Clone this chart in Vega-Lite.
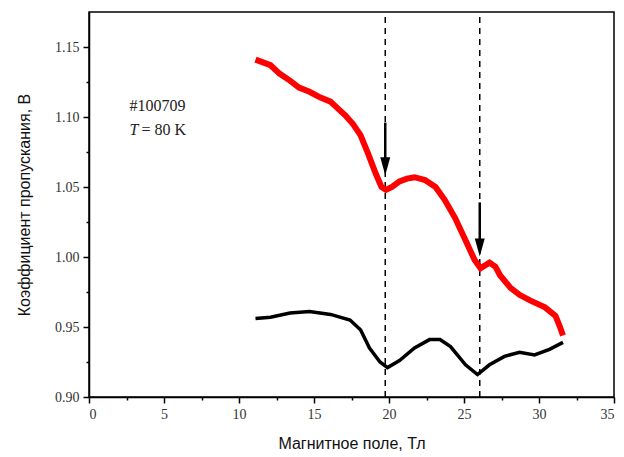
{
  "$schema": "https://vega.github.io/schema/vega-lite/v6.json",
  "width": 525,
  "height": 385,
  "autosize": "none",
  "padding": {"left": 89, "top": 12, "right": 10, "bottom": 60},
  "background": "white",
  "config": {"view": {"stroke": "black", "strokeWidth": 1.5}},
  "datasets": {
    "red": [
      {"x": 11.1, "y": 1.141}, {"x": 11.6, "y": 1.139}, {"x": 12.1, "y": 1.137}, {"x": 12.7, "y": 1.131},
      {"x": 13.4, "y": 1.126}, {"x": 14.0, "y": 1.121}, {"x": 14.7, "y": 1.118}, {"x": 15.4, "y": 1.114},
      {"x": 16.1, "y": 1.111}, {"x": 16.6, "y": 1.106}, {"x": 17.1, "y": 1.101}, {"x": 17.6, "y": 1.095},
      {"x": 18.1, "y": 1.087}, {"x": 18.6, "y": 1.074}, {"x": 19.1, "y": 1.060}, {"x": 19.5, "y": 1.050},
      {"x": 19.8, "y": 1.048}, {"x": 20.2, "y": 1.050}, {"x": 20.7, "y": 1.054}, {"x": 21.2, "y": 1.056},
      {"x": 21.7, "y": 1.057}, {"x": 22.4, "y": 1.055}, {"x": 23.1, "y": 1.050}, {"x": 23.7, "y": 1.041},
      {"x": 24.4, "y": 1.028}, {"x": 25.1, "y": 1.012}, {"x": 25.7, "y": 0.998}, {"x": 26.1, "y": 0.992},
      {"x": 26.7, "y": 0.996}, {"x": 27.1, "y": 0.993}, {"x": 27.4, "y": 0.987}, {"x": 28.1, "y": 0.978},
      {"x": 28.7, "y": 0.973}, {"x": 29.4, "y": 0.969}, {"x": 30.4, "y": 0.964}, {"x": 31.1, "y": 0.958},
      {"x": 31.4, "y": 0.950}, {"x": 31.6, "y": 0.944}
    ],
    "black": [
      {"x": 11.1, "y": 0.956}, {"x": 12.1, "y": 0.957}, {"x": 13.4, "y": 0.960}, {"x": 14.7, "y": 0.961},
      {"x": 16.1, "y": 0.959}, {"x": 17.4, "y": 0.955}, {"x": 18.1, "y": 0.948}, {"x": 18.7, "y": 0.935},
      {"x": 19.4, "y": 0.925}, {"x": 19.9, "y": 0.921}, {"x": 20.7, "y": 0.926}, {"x": 21.7, "y": 0.935},
      {"x": 22.7, "y": 0.941}, {"x": 23.4, "y": 0.941}, {"x": 24.1, "y": 0.936}, {"x": 25.1, "y": 0.923},
      {"x": 25.9, "y": 0.916}, {"x": 26.7, "y": 0.923}, {"x": 27.7, "y": 0.929}, {"x": 28.7, "y": 0.932},
      {"x": 29.7, "y": 0.930}, {"x": 30.7, "y": 0.934}, {"x": 31.6, "y": 0.939}
    ],
    "vlines": [{"x": 19.75}, {"x": 26.05}],
    "arrows": [
      {"x": 19.75, "y1": 1.096, "y2": 1.068, "tip": 1.062},
      {"x": 26.05, "y1": 1.039, "y2": 1.010, "tip": 1.004}
    ],
    "labels": [{"x": 2.7, "y": 1.108, "t": "#100709"}]
  },
  "layer": [
    {
      "data": {"name": "vlines"},
      "mark": {"type": "rule", "color": "black", "strokeWidth": 1.5, "strokeDash": [6, 5]},
      "encoding": {
        "x": {"field": "x", "type": "quantitative", "scale": {"domain": [0, 35], "nice": false},
          "axis": {"orient": "bottom", "values": [0, 5, 10, 15, 20, 25, 30, 35], "tickSize": 6, "tickWidth": 1.5, "tickColor": "black",
            "domainColor": "black", "domainWidth": 1.5, "labelFont": "Liberation Serif", "labelFontSize": 14, "labelColor": "#333", "labelPadding": 4,
            "grid": false, "title": "Магнитное поле, Тл", "titleFont": "Liberation Sans", "titleFontSize": 16, "titleFontWeight": "normal", "titleColor": "#111", "titlePadding": 14}},
        "y": {"datum": 0.9, "type": "quantitative", "scale": {"domain": [0.9, 1.175], "nice": false, "zero": false},
          "axis": {"orient": "left", "values": [0.9, 0.95, 1.0, 1.05, 1.1, 1.15], "format": ".2f", "tickSize": 6, "tickWidth": 1.5, "tickColor": "black",
            "domainColor": "black", "domainWidth": 1.5, "labelFont": "Liberation Serif", "labelFontSize": 14, "labelColor": "#333", "labelPadding": 4,
            "grid": false, "title": "Коэффициент пропускания, В", "titleFont": "Liberation Sans", "titleFontSize": 16, "titleFontWeight": "normal", "titleColor": "#111", "titlePadding": 22}},
        "y2": {"datum": 1.175}
      }
    },
    {
      "data": {"name": "black"},
      "mark": {"type": "line", "color": "black", "strokeWidth": 3.5},
      "encoding": {
        "x": {"field": "x", "type": "quantitative",
          "axis": {"orient": "bottom", "values": [2.5, 7.5, 12.5, 17.5, 22.5, 27.5, 32.5], "tickSize": 3, "tickWidth": 1.5, "tickColor": "black", "labels": false, "domain": false, "grid": false, "title": null}},
        "y": {"field": "y", "type": "quantitative",
          "axis": {"orient": "left", "values": [0.925, 0.975, 1.025, 1.075, 1.125], "tickSize": 3, "tickWidth": 1.5, "tickColor": "black", "labels": false, "domain": false, "grid": false, "title": null}}
      }
    },
    {
      "data": {"name": "red"},
      "mark": {"type": "line", "color": "#ff0000", "strokeWidth": 6},
      "encoding": {
        "x": {"field": "x", "type": "quantitative", "axis": null},
        "y": {"field": "y", "type": "quantitative", "axis": null}
      }
    },
    {
      "data": {"name": "arrows"},
      "mark": {"type": "rule", "color": "black", "strokeWidth": 2.5},
      "encoding": {
        "x": {"field": "x", "type": "quantitative", "axis": null},
        "y": {"field": "y1", "type": "quantitative", "axis": null},
        "y2": {"field": "y2"}
      }
    },
    {
      "data": {"name": "arrows"},
      "mark": {"type": "point", "shape": "M-1,-2.6L1,-2.6L0,1Z", "filled": true, "color": "black", "opacity": 1, "size": 100},
      "encoding": {
        "x": {"field": "x", "type": "quantitative", "axis": null},
        "y": {"field": "tip", "type": "quantitative", "axis": null}
      }
    },
    {
      "data": {"name": "labels"},
      "mark": {"type": "text", "font": "Liberation Serif", "fontSize": 16, "align": "left", "baseline": "middle", "color": "#222"},
      "encoding": {
        "x": {"field": "x", "type": "quantitative", "axis": null},
        "y": {"field": "y", "type": "quantitative", "axis": null},
        "text": {"field": "t"}
      }
    },
    {
      "data": {"values": [{"x": 2.7, "y": 1.0905, "t": "T"}]},
      "mark": {"type": "text", "font": "Liberation Serif", "fontSize": 16, "fontStyle": "italic", "align": "left", "baseline": "middle", "color": "#222"},
      "encoding": {
        "x": {"field": "x", "type": "quantitative", "axis": null},
        "y": {"field": "y", "type": "quantitative", "axis": null},
        "text": {"field": "t"}
      }
    },
    {
      "data": {"values": [{"x": 3.5, "y": 1.0905, "t": "= 80 K"}]},
      "mark": {"type": "text", "font": "Liberation Serif", "fontSize": 16, "align": "left", "baseline": "middle", "color": "#222"},
      "encoding": {
        "x": {"field": "x", "type": "quantitative", "axis": null},
        "y": {"field": "y", "type": "quantitative", "axis": null},
        "text": {"field": "t"}
      }
    }
  ],
  "resolve": {"axis": {"x": "independent", "y": "independent"}}
}
